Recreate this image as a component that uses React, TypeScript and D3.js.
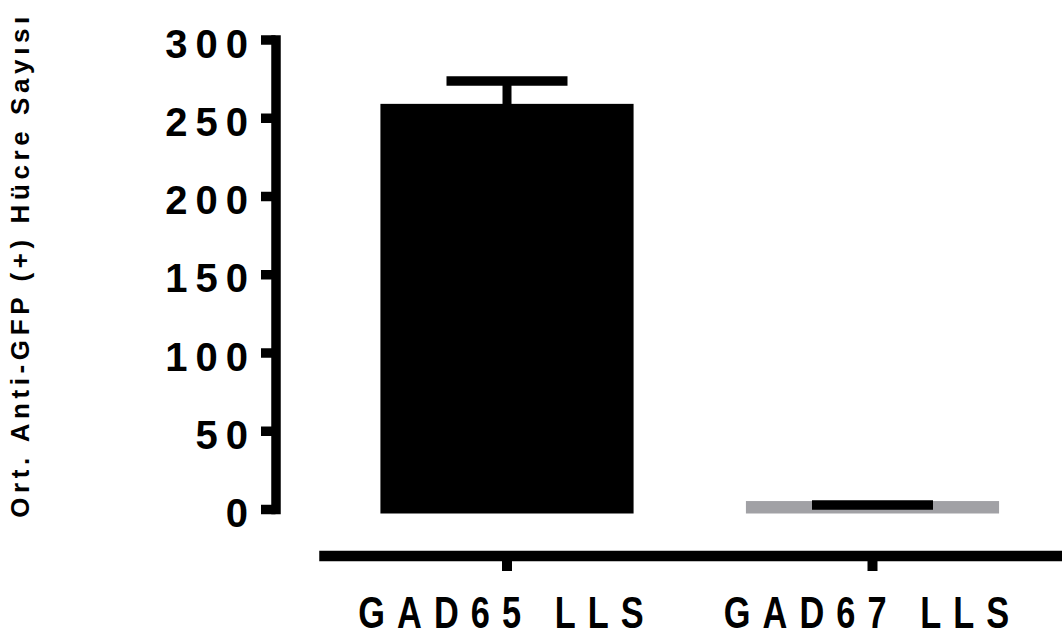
import React, { useEffect, useRef } from "react";
import * as d3 from "d3";

// Data
const categories = ["GAD65 LLS", "GAD67 LLS"];
const means = [256, 2.2];
const sems = [17.5, 0.4];
const barColors = ["#000000", "#a1a1a5"];
const yTicks = [0, 50, 100, 150, 200, 250, 300];
const yTitle = "Ort. Anti-GFP (+) Hücre Sayısı";

const width = 1062;
const height = 637;

const App = () => {
  const svgRef = useRef<SVGSVGElement>(null);

  useEffect(() => {
    const svg = d3.select(svgRef.current);
    svg.selectAll("*").remove();

    const lw = 9.5; // thick Prism-style strokes

    const y = d3.scaleLinear().domain([0, 300]).range([509, 39.5]);
    const x = d3
      .scaleBand<string>()
      .domain(categories)
      .range([324.25, 1055.25])
      .paddingInner(0.332)
      .paddingOuter(0.166);

    const axisX = 275.5;
    const baseY = 556;

    // Bars (stroke in the same colour, like the original)
    const bars = categories.map((c, i) => ({ c, m: means[i], s: sems[i], col: barColors[i] }));

    svg
      .append("g")
      .selectAll("rect")
      .data(bars)
      .join("rect")
      .attr("x", (d) => x(d.c)!)
      .attr("y", (d) => y(d.m))
      .attr("width", x.bandwidth())
      .attr("height", (d) => y(0) - y(d.m))
      .attr("fill", (d) => d.col)
      .attr("stroke", (d) => d.col)
      .attr("stroke-width", 9);

    // Error bars (upper only)
    const err = svg.append("g");
    bars.forEach((d) => {
      const cx = x(d.c)! + x.bandwidth() / 2;
      if (y(d.m) - y(d.m + d.s) > 1) {
        err
          .append("line")
          .attr("x1", cx)
          .attr("x2", cx)
          .attr("y1", y(d.m))
          .attr("y2", y(d.m + d.s))
          .attr("stroke", "#000")
          .attr("stroke-width", 9);
      }
      err
        .append("line")
        .attr("x1", cx - 60.5)
        .attr("x2", cx + 60.5)
        .attr("y1", y(d.m + d.s))
        .attr("y2", y(d.m + d.s))
        .attr("stroke", "#000")
        .attr("stroke-width", lw);
    });

    // Y axis
    const gy = svg
      .append("g")
      .attr("transform", `translate(${axisX},0)`)
      .call(
        d3
          .axisLeft(y)
          .tickValues(yTicks)
          .tickSizeInner(14.5)
          .tickSizeOuter(0)
          .tickPadding(5)
      );
    gy.select(".domain")
      .attr("stroke", "#000")
      .attr("stroke-width", lw)
      .attr("stroke-linecap", "square");
    gy.selectAll(".tick line").attr("stroke", "#000").attr("stroke-width", lw);
    gy.selectAll(".tick text")
      .attr("dy", "0.44em")
      .attr("fill", "#000")
      .style("font-family", "'Liberation Sans', Arial, sans-serif")
      .style("font-weight", "bold")
      .style("font-size", "40px")
      .style("letter-spacing", "8px");

    // X axis
    svg
      .append("line")
      .attr("x1", x.range()[0] - 5)
      .attr("x2", width)
      .attr("y1", baseY)
      .attr("y2", baseY)
      .attr("stroke", "#000")
      .attr("stroke-width", 10.5);

    const gx = svg
      .append("g")
      .attr("transform", `translate(0,${baseY})`)
      .call(d3.axisBottom(x).tickSizeInner(15).tickSizeOuter(0).tickPadding(56));
    gx.select(".domain").remove();
    gx.selectAll(".tick line").attr("stroke", "#000").attr("stroke-width", 10);
    // condensed look: squeeze horizontally around the tick centre
    gx.selectAll(".tick text")
      .attr("dy", "0")
      .attr("y", 0)
      .attr("transform", "translate(0,71.5) scale(0.78,1)")
      .attr("fill", "#000")
      .style("font-family", "'Liberation Sans', Arial, sans-serif")
      .style("font-weight", "bold")
      .style("font-size", "44px")
      .style("letter-spacing", "15.5px");

    // Y title
    svg
      .append("text")
      .attr("transform", `translate(29,265) rotate(-90)`)
      .attr("text-anchor", "middle")
      .style("font-family", "'Liberation Sans', Arial, sans-serif")
      .style("font-weight", "bold")
      .style("font-size", "26px")
      .style("letter-spacing", "4.6px")
      .text(yTitle);
  }, []);

  return (
    <svg
      ref={svgRef}
      width={width}
      height={height}
      style={{ position: "absolute", left: 0, top: 0, background: "#fff" }}
    ></svg>
  );
};

export default App;
